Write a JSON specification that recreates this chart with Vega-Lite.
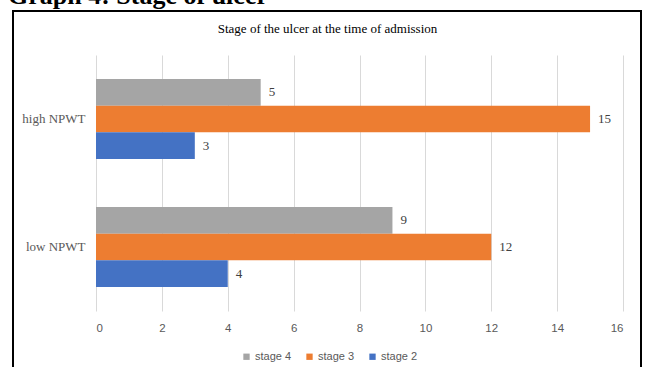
{
  "$schema": "https://vega.github.io/schema/vega-lite/v6.json",
  "width": 628,
  "height": 360,
  "autosize": {"type": "none"},
  "padding": {"left": 13, "top": 11, "right": 9, "bottom": 0},
  "background": "white",
  "config": {"view": {"stroke": "#000000", "strokeWidth": 2}},
  "title": {
    "text": "Graph 4: Stage of ulcer",
    "font": "Liberation Serif",
    "fontSize": 26,
    "fontWeight": "bold",
    "color": "#000000",
    "anchor": "start",
    "frame": "bounds",
    "baseline": "alphabetic",
    "offset": -19,
    "dx": -5
  },
  "data": {
    "values": [
      {"group": "high NPWT", "stage": "stage 4", "count": 5},
      {"group": "high NPWT", "stage": "stage 3", "count": 15},
      {"group": "high NPWT", "stage": "stage 2", "count": 3},
      {"group": "low NPWT", "stage": "stage 4", "count": 9},
      {"group": "low NPWT", "stage": "stage 3", "count": 12},
      {"group": "low NPWT", "stage": "stage 2", "count": 4}
    ]
  },
  "encoding": {
    "y": {
      "field": "group",
      "type": "nominal",
      "sort": ["high NPWT", "low NPWT"],
      "scale": {"range": [44, 300], "paddingInner": 0.375, "paddingOuter": 0.1875},
      "axis": {
        "orient": "left",
        "offset": -72,
        "domain": false,
        "ticks": false,
        "tickSize": 0,
        "labelPadding": 0,
        "grid": false,
        "labelFont": "Liberation Serif",
        "labelFontSize": 13,
        "labelColor": "#595959",
        "title": null
      }
    },
    "yOffset": {
      "field": "stage",
      "type": "nominal",
      "sort": ["stage 4", "stage 3", "stage 2"],
      "scale": {"paddingInner": 0, "paddingOuter": 0}
    },
    "x": {
      "field": "count",
      "type": "quantitative",
      "scale": {"domain": [0, 16], "range": [83, 610], "nice": false, "zero": true},
      "axis": {
        "orient": "top",
        "offset": -317,
        "values": [0, 2, 4, 6, 8, 10, 12, 14, 16],
        "domain": false,
        "ticks": false,
        "tickSize": 0,
        "labelPadding": 0,
        "labelBaseline": "middle",
        "labelFont": "Liberation Sans",
        "labelFontSize": 11.5,
        "labelColor": "#595959",
        "grid": true,
        "gridColor": "#d9d9d9",
        "gridWidth": 1,
        "title": "Stage of the ulcer at the time of admission",
        "titleFont": "Liberation Serif",
        "titleFontSize": 13,
        "titleFontWeight": "normal",
        "titleColor": "#000000",
        "titleX": 314,
        "titleY": -300,
        "titleAlign": "center",
        "titleBaseline": "middle",
        "titleAnchor": null
      }
    }
  },
  "layer": [
    {
      "mark": {"type": "bar"},
      "encoding": {
        "color": {
          "field": "stage",
          "type": "nominal",
          "scale": {"domain": ["stage 4", "stage 3", "stage 2"], "range": ["#A5A5A5", "#ED7D31", "#4472C4"]},
          "legend": {
            "orient": "none",
            "legendX": 228,
            "legendY": 340,
            "direction": "horizontal",
            "title": null,
            "symbolType": "square",
            "symbolSize": 40,
            "symbolStrokeWidth": 0,
            "labelFont": "Liberation Sans",
            "labelFontSize": 11,
            "labelColor": "#595959",
            "labelOffset": 3,
            "columnPadding": 12
          }
        }
      }
    },
    {
      "mark": {
        "type": "text",
        "align": "left",
        "baseline": "middle",
        "dx": 8,
        "font": "Liberation Serif",
        "fontSize": 13,
        "fill": "#404040"
      },
      "encoding": {"text": {"field": "count", "type": "quantitative"}}
    }
  ]
}
